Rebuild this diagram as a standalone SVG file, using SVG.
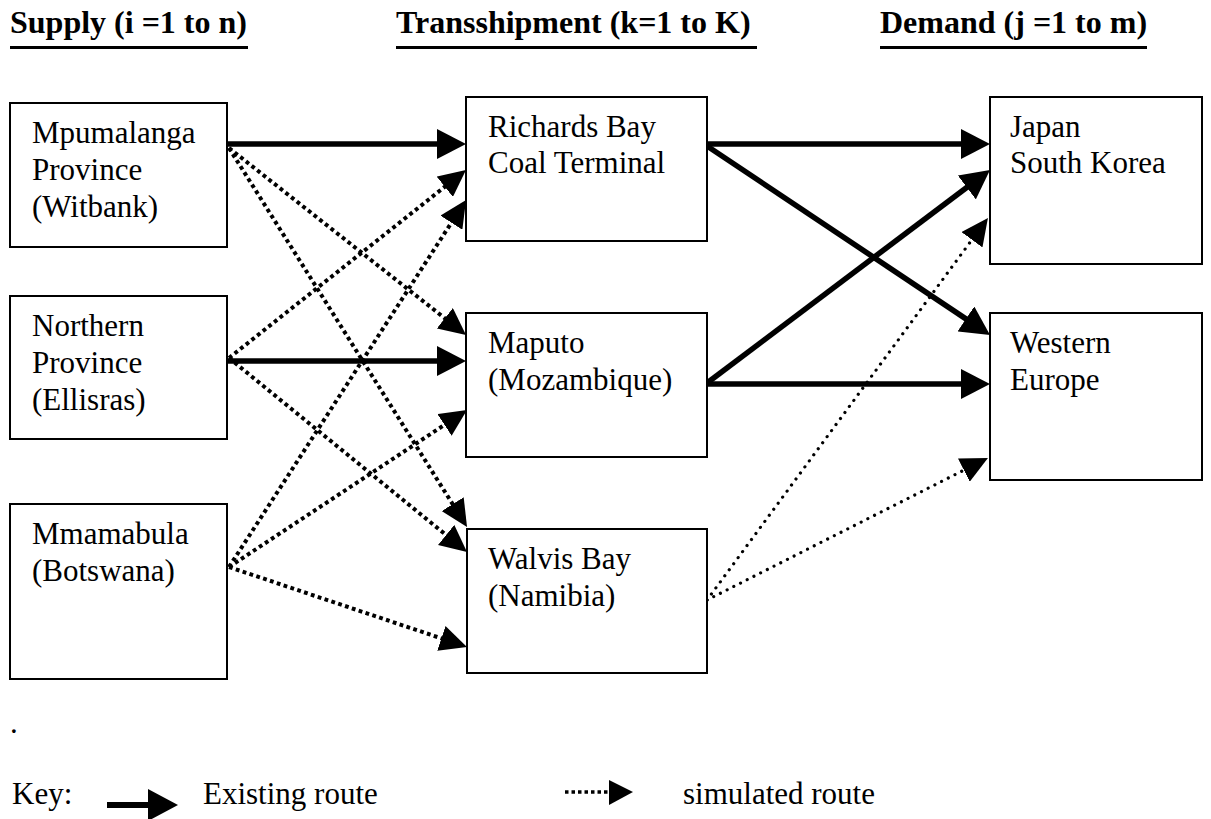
<svg xmlns="http://www.w3.org/2000/svg" width="1211" height="819" viewBox="0 0 1211 819">
<style>
.box{fill:#fff;stroke:#000;stroke-width:2}
.t{font-family:"Liberation Serif","Times New Roman",serif;font-size:31px;fill:#000}
.h{font-family:"Liberation Serif","Times New Roman",serif;font-size:32px;font-weight:bold;fill:#000}
.solid{stroke:#000;stroke-width:5.5;fill:none;marker-end:url(#ah)}
.dot{stroke:#000;stroke-width:4;stroke-dasharray:3.8 3.4;fill:none;marker-end:url(#ad)}
.rdot{stroke:#000;stroke-width:3.2;stroke-dasharray:0.01 7.5;stroke-linecap:round;fill:none;marker-end:url(#ad)}
</style>
<defs>
<marker id="ah" viewBox="0 -15 29 30" markerWidth="29" markerHeight="30" refX="9" refY="0" orient="auto" markerUnits="userSpaceOnUse">
<path d="M0,-15 L29,0 L0,15 z" fill="#000"/>
</marker>
<marker id="ad" viewBox="0 -13 27 26" markerWidth="27" markerHeight="26" refX="7" refY="0" orient="auto" markerUnits="userSpaceOnUse">
<path d="M0,-13 L27,0 L0,13 z" fill="#000"/>
</marker>
</defs>
<rect width="1211" height="819" fill="#fff"/>
<g id="headers">
<text class="h" x="10" y="33">Supply (i =1 to n)</text>
<rect x="10" y="46" width="238" height="3" fill="#000"/>
<text class="h" x="396" y="33">Transshipment (k=1 to K)</text>
<rect x="396" y="46" width="361" height="3" fill="#000"/>
<text class="h" x="880" y="33">Demand (j =1 to m)</text>
<rect x="880" y="46" width="267" height="3" fill="#000"/>
</g>
<g id="connectors">
<line class="solid" x1="227" y1="144" x2="446" y2="144"/>
<line class="solid" x1="227" y1="361" x2="446" y2="361"/>
<line class="solid" x1="707" y1="144" x2="970" y2="144"/>
<line class="solid" x1="707" y1="146" x2="973.4" y2="323.9"/>
<line class="solid" x1="707" y1="383" x2="974" y2="182"/>
<line class="solid" x1="707" y1="384" x2="970" y2="384"/>
<line class="dot" x1="229" y1="148" x2="450.3" y2="322.6"/>
<line class="dot" x1="229" y1="148" x2="456.4" y2="510.1"/>
<line class="dot" x1="229" y1="358" x2="450.3" y2="182.4"/>
<line class="dot" x1="229" y1="358" x2="451.5" y2="539.4"/>
<line class="dot" x1="229" y1="567" x2="455.2" y2="216.8"/>
<line class="dot" x1="229" y1="567" x2="450.3" y2="421"/>
<line class="dot" x1="229" y1="567" x2="448" y2="640.6"/>
<line class="rdot" x1="707" y1="600" x2="976.1" y2="234.1"/>
<line class="rdot" x1="707" y1="600" x2="970.1" y2="467"/>
</g>
<g id="mpumalanga">
<rect class="box" x="10" y="103" width="217" height="144"/>
<text class="t" x="32" y="143">Mpumalanga</text>
<text class="t" x="32" y="180">Province</text>
<text class="t" x="32" y="217">(Witbank)</text>
</g>
<g id="northern">
<rect class="box" x="10" y="296" width="217" height="143"/>
<text class="t" x="32" y="336">Northern</text>
<text class="t" x="32" y="373">Province</text>
<text class="t" x="32" y="410">(Ellisras)</text>
</g>
<g id="mmamabula">
<rect class="box" x="10" y="504" width="217" height="175"/>
<text class="t" x="32" y="544">Mmamabula</text>
<text class="t" x="32" y="581">(Botswana)</text>
</g>
<g id="richards">
<rect class="box" x="466" y="97" width="241" height="144"/>
<text class="t" x="488" y="137">Richards Bay</text>
<text class="t" x="488" y="173">Coal Terminal</text>
</g>
<g id="maputo">
<rect class="box" x="466" y="313" width="241" height="144"/>
<text class="t" x="488" y="353">Maputo</text>
<text class="t" x="488" y="390">(Mozambique)</text>
</g>
<g id="walvis">
<rect class="box" x="467" y="529" width="240" height="144"/>
<text class="t" x="488" y="569">Walvis Bay</text>
<text class="t" x="488" y="606">(Namibia)</text>
</g>
<g id="japan">
<rect class="box" x="990" y="97" width="212" height="167"/>
<text class="t" x="1010" y="137">Japan</text>
<text class="t" x="1010" y="173">South Korea</text>
</g>
<g id="europe">
<rect class="box" x="990" y="313" width="212" height="167"/>
<text class="t" x="1010" y="353">Western</text>
<text class="t" x="1010" y="390">Europe</text>
</g>
<g id="key">
<text class="t" x="10" y="733">.</text>
<text class="t" x="12" y="804">Key:</text>
<line x1="107" y1="805" x2="150" y2="805" stroke="#000" stroke-width="6"/>
<path d="M148,789 L178,805 L148,821 z" fill="#000"/>
<text class="t" x="203" y="804">Existing route</text>
<line x1="565" y1="792" x2="610" y2="792" stroke="#000" stroke-width="3.5" stroke-dasharray="3.5 3"/>
<path d="M609,780 L633,792 L609,805 z" fill="#000"/>
<text class="t" x="683" y="804">simulated route</text>
</g>
</svg>
